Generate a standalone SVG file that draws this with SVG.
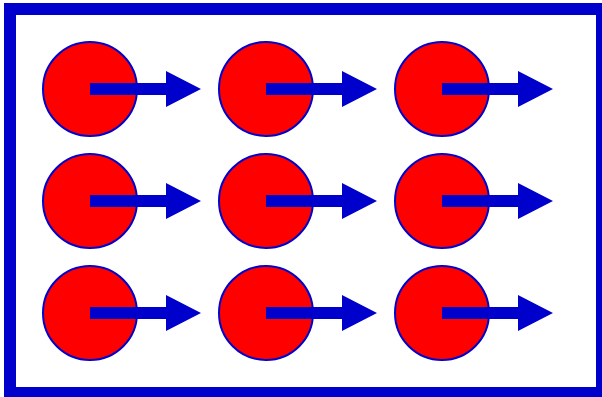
<svg xmlns="http://www.w3.org/2000/svg" width="602" height="397" viewBox="0 0 602 397">
  <style>
    .frame { fill: #ffffff; stroke: #0000cc; stroke-width: 12; }
    .dot { fill: #ff0000; stroke: #0000cc; stroke-width: 2; }
    .arrow { fill: #0000cc; stroke: none; }
  </style>
  <defs>
    <!-- arrow pointing right from the origin: shaft then triangular head -->
    <path id="arrowShape" class="arrow" d="M0,-6 H76 V-18 L111,0 L76,18 V6 H0 Z"/>
  </defs>
  <rect class="frame" x="10" y="9" width="592" height="384"/>
  <g id="nodes">
    <g id="node-r1c1"><circle class="dot" cx="90" cy="89" r="47"/></g>
    <g id="node-r1c2"><circle class="dot" cx="266" cy="89" r="47"/></g>
    <g id="node-r1c3"><circle class="dot" cx="442" cy="89" r="47"/></g>
    <g id="node-r2c1"><circle class="dot" cx="90" cy="201" r="47"/></g>
    <g id="node-r2c2"><circle class="dot" cx="266" cy="201" r="47"/></g>
    <g id="node-r2c3"><circle class="dot" cx="442" cy="201" r="47"/></g>
    <g id="node-r3c1"><circle class="dot" cx="90" cy="313" r="47"/></g>
    <g id="node-r3c2"><circle class="dot" cx="266" cy="313" r="47"/></g>
    <g id="node-r3c3"><circle class="dot" cx="442" cy="313" r="47"/></g>
  </g>
  <g id="connectors">
    <use href="#arrowShape" x="90" y="89"/>
    <use href="#arrowShape" x="266" y="89"/>
    <use href="#arrowShape" x="442" y="89"/>
    <use href="#arrowShape" x="90" y="201"/>
    <use href="#arrowShape" x="266" y="201"/>
    <use href="#arrowShape" x="442" y="201"/>
    <use href="#arrowShape" x="90" y="313"/>
    <use href="#arrowShape" x="266" y="313"/>
    <use href="#arrowShape" x="442" y="313"/>
  </g>
</svg>
